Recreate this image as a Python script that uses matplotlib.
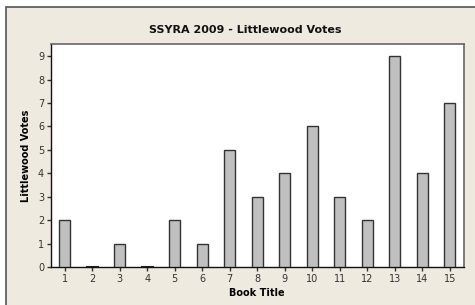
import matplotlib
matplotlib.use("Agg")
import matplotlib.pyplot as plt
from matplotlib.patches import Rectangle

books = list(range(1, 16))
votes = [2, 0, 1, 0, 2, 1, 5, 3, 4, 6, 3, 2, 9, 4, 7]
yticks = list(range(0, 10))

W, H = 475, 305
fig = plt.figure(figsize=(W / 100, H / 100), dpi=100)
fig.patch.set_facecolor("white")
bg = "#EEEAE0"
fig.patches.append(Rectangle((6 / W, -0.05), 1.1, 1.05 - 7.5 / H,
                             transform=fig.transFigure, facecolor=bg,
                             edgecolor="#555555", linewidth=1.2, zorder=-5))

ax = fig.add_axes([51 / W, 1 - 267 / H, (463.5 - 51) / W, (267 - 44) / H])
ax.set_zorder(2)
ax.set_facecolor("white")
ax.bar(books, votes, width=0.4, color="#C0C0C0", edgecolor="#333333", linewidth=1.0, zorder=3)
for b, v in zip(books, votes):
    if v == 0:
        ax.plot([b - 0.2, b + 0.2], [0, 0], color="#222222", linewidth=1.5, zorder=4)

ax.set_xlim(0.5, 15.5)
ax.set_ylim(0, 9.52)
ax.set_xticks(books)
ax.set_yticks(yticks)
ax.tick_params(labelsize=7, colors="#333333", length=3, width=1, pad=2)
for s in ["left", "bottom"]:
    ax.spines[s].set_color("#111111")
    ax.spines[s].set_linewidth(1.0)
for s in ["top", "right"]:
    ax.spines[s].set_color("#666666")
    ax.spines[s].set_linewidth(1.2)

ax.set_xlabel("Book Title", fontsize=7, fontweight="bold", labelpad=3)
ax.set_ylabel("Littlewood Votes", fontsize=7, fontweight="bold", labelpad=5)
fig.text(245 / W, 1 - 30 / H, "SSYRA 2009 - Littlewood Votes",
         ha="center", va="center", fontsize=8, fontweight="bold", color="#111111")

fig.savefig("out.png", dpi=100, facecolor=fig.get_facecolor())
